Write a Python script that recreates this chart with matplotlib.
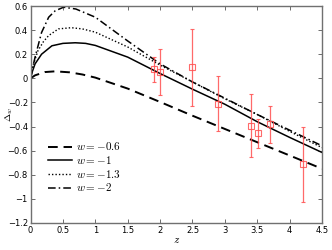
import matplotlib.pyplot as plt

plt.rcParams['mathtext.fontset'] = 'cm'

# curves
z_a = [0, 0.07, 0.22, 0.38, 0.6, 0.8, 1.0, 1.5, 2.0, 2.5, 3.0, 3.5, 4.0, 4.5]
d_a = [0, 0.025, 0.052, 0.058, 0.05, 0.032, 0.006, -0.085, -0.196, -0.31, -0.42, -0.53, -0.64, -0.75]

z_b = [0, 0.03, 0.07, 0.17, 0.33, 0.5, 0.69, 0.85, 1.0, 1.5, 2.0, 2.5, 3.0, 3.5, 4.0, 4.5]
d_b = [0, 0.06, 0.12, 0.2, 0.27, 0.29, 0.295, 0.29, 0.273, 0.176, 0.04, -0.09, -0.215, -0.36, -0.49, -0.615]

z_c = [0, 0.04, 0.115, 0.2, 0.28, 0.43, 0.63, 0.8, 1.0, 1.5, 2.0, 2.5, 3.0, 3.5, 4.0, 4.5]
d_c = [0, 0.11, 0.23, 0.305, 0.355, 0.41, 0.42, 0.41, 0.383, 0.26, 0.11, -0.03, -0.17, -0.3, -0.44, -0.575]

z_d = [0, 0.03, 0.07, 0.17, 0.28, 0.38, 0.51, 0.7, 1.0, 1.5, 2.0, 2.5, 3.0, 3.5, 4.0, 4.5]
d_d = [0, 0.08, 0.176, 0.38, 0.507, 0.56, 0.59, 0.575, 0.507, 0.31, 0.12, -0.03, -0.165, -0.3, -0.43, -0.56]

# data points
z_obs = [1.9, 2.0, 2.5, 2.9, 3.4, 3.51, 3.7, 4.2]
d_obs = [0.074, 0.052, 0.093, -0.209, -0.394, -0.457, -0.38, -0.713]
e_obs = [0.107, 0.19, 0.32, 0.23, 0.26, 0.12, 0.153, 0.31]

labels = [r'$w=-0.6$', r'$w=-1$', r'$w=-1.3$', r'$w=-2$']

fig = plt.figure(figsize=(3.32, 2.5), dpi=100)
ax = fig.add_axes([0.092, 0.108, 0.878, 0.868])

ax.plot(z_a, d_a, 'k', ls=(0, (5, 3)), lw=1.4, label=labels[0])
ax.plot(z_b, d_b, 'k-', lw=1.1, label=labels[1])
ax.plot(z_c, d_c, 'k', ls=(0, (1, 1.5)), lw=1.0, label=labels[2])
ax.plot(z_d, d_d, 'k', ls=(0, (5, 2, 1, 2)), lw=1.1, label=labels[3])

ax.errorbar(z_obs, d_obs, yerr=e_obs, fmt='s', color='#ff5050', mfc='none',
            ms=4, mew=0.8, elinewidth=0.9, capsize=1.5, alpha=0.85)

ax.set_xlim(0, 4.5)
ax.set_ylim(-1.2, 0.6)
ax.set_xticks([0, 0.5, 1, 1.5, 2, 2.5, 3, 3.5, 4, 4.5])
ax.set_xticklabels(['0', '0.5', '1', '1.5', '2', '2.5', '3', '3.5', '4', '4.5'])
ax.set_yticks([-1.2, -1, -0.8, -0.6, -0.4, -0.2, 0, 0.2, 0.4, 0.6])
ax.set_yticklabels(['\u22121.2', '\u22121', '\u22120.8', '\u22120.6', '\u22120.4',
                    '\u22120.2', '0', '0.2', '0.4', '0.6'])
ax.tick_params(direction='in', top=True, right=True, labelsize=6, length=3,
               width=0.6, color='#555555', pad=2)
for s in ax.spines.values():
    s.set_color('#707070')
    s.set_linewidth(1.0)

ax.set_xlabel(r'$z$', fontsize=8, labelpad=0)
ax.set_ylabel(r'$\Delta_w$', fontsize=7)
ax.yaxis.set_label_coords(-0.055, 0.5)

ax.legend(loc='lower left', bbox_to_anchor=(0.025, 0.09), frameon=False,
          fontsize=8, handlelength=2.2, handletextpad=0.3, labelspacing=0.15)

fig.savefig('out.png', dpi=100)
